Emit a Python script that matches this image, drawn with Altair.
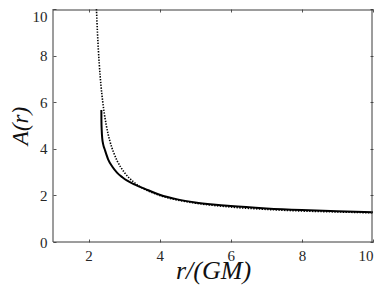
import altair as alt
import pandas as pd

# Dotted curve (reference)
r_dot = [2.222, 2.25, 2.3, 2.35, 2.4, 2.5, 2.6, 2.7, 2.8, 3.0, 3.25, 3.5, 4.0, 4.5, 5.0, 6.0, 7.0, 8.0, 9.0, 10.0]
A_dot = [10.0, 9.0, 7.67, 6.71, 6.0, 5.0, 4.33, 3.86, 3.5, 3.0, 2.6, 2.33, 2.0, 1.8, 1.67, 1.5, 1.4, 1.33, 1.29, 1.25]

# Solid curve
r_sol = [2.36, 2.362, 2.37, 2.385, 2.41, 2.46, 2.55, 2.67, 2.8, 2.95, 3.1, 3.32, 3.6, 4.0, 4.5, 5.0, 5.5, 6.0, 7.0, 8.0, 9.0, 10.0]
A_sol = [5.67, 5.2, 4.8, 4.45, 4.2, 3.95, 3.55, 3.23, 2.98, 2.78, 2.62, 2.45, 2.27, 2.03, 1.83, 1.70, 1.61, 1.54, 1.44, 1.37, 1.32, 1.28]

x_ticks = [2, 4, 6, 8, 10]
y_ticks = [0, 2, 4, 6, 8, 10]

dot_df = pd.DataFrame({"r": r_dot, "A": A_dot})
sol_df = pd.DataFrame({"r": r_sol, "A": A_sol})
one_df = pd.DataFrame({"k": [0]})

FONT = "Liberation Serif"
TICK = 3
W, H = 320, 233
AX = "#3a3a3a"

xscale = alt.Scale(domain=[1, 10], nice=False, zero=False)
yscale = alt.Scale(domain=[0, 10], nice=False)

x_bottom = alt.Axis(values=x_ticks, orient="bottom", offset=-TICK, tickSize=TICK, domain=False,
                    labelPadding=6, labelFont=FONT, labelFontSize=15, labelColor="#262626",
                    tickColor="#555555", grid=False, title="r/(GM)", titleFont=FONT,
                    titleFontSize=26, titleFontStyle="italic", titleFontWeight="normal",
                    titleColor="#111111", titleX=W / 2, titleY=39, titleBaseline="alphabetic",
                    titleAlign="center")
y_left = alt.Axis(values=y_ticks, orient="left", offset=-TICK, tickSize=TICK, domain=False,
                  labelPadding=6, labelFont=FONT, labelFontSize=15, labelColor="#262626",
                  labelBaseline=alt.condition("datum.value == 10", alt.value("top"), alt.value("middle")),
                  tickColor="#555555", grid=False, title="A(r)", titleFont=FONT,
                  titleFontSize=23, titleFontStyle="italic", titleFontWeight="normal",
                  titleColor="#111111", titleX=-29, titleY=H / 2, titleBaseline="alphabetic",
                  titleAlign="center", titleAngle=270)
x_top = alt.Axis(values=x_ticks, orient="top", offset=-TICK, tickSize=TICK, domain=False,
                 labels=False, tickColor="#555555", grid=False, title=None)
y_right = alt.Axis(values=y_ticks, orient="right", offset=-TICK, tickSize=TICK, domain=False,
                   labels=False, tickColor="#555555", grid=False, title=None)

dotted = alt.Chart(dot_df).mark_line(
    color="black", strokeWidth=1.6, strokeDash=[1.4, 1.4], clip=True, interpolate="monotone"
).encode(
    x=alt.X("r:Q", scale=xscale, axis=x_bottom),
    y=alt.Y("A:Q", scale=yscale, axis=y_left),
    order="r:Q",
)

solid = alt.Chart(sol_df).mark_line(
    color="black", strokeWidth=2, clip=True, interpolate="monotone"
).encode(
    x=alt.X("r:Q", scale=xscale, axis=x_top),
    y=alt.Y("A:Q", scale=yscale, axis=y_right),
    order="r:Q",
)

# plot-area frame (box around the axes)
frame_left = alt.Chart(one_df).mark_rule(color=AX, strokeWidth=1).encode(
    x=alt.value(0), y=alt.value(0), y2=alt.value(H))
frame_right = alt.Chart(one_df).mark_rule(color=AX, strokeWidth=1).encode(
    x=alt.value(W - 1), y=alt.value(0), y2=alt.value(H))
frame_top = alt.Chart(one_df).mark_rule(color=AX, strokeWidth=1).encode(
    y=alt.value(1), x=alt.value(0), x2=alt.value(W))
frame_bottom = alt.Chart(one_df).mark_rule(color=AX, strokeWidth=1).encode(
    y=alt.value(H), x=alt.value(0), x2=alt.value(W))

chart = alt.layer(dotted, solid, frame_left, frame_right, frame_top, frame_bottom).resolve_scale(
    x="independent", y="independent"
).properties(
    width=W, height=H,
    autosize=alt.AutoSizeParams(type="none"),
    padding={"left": 45, "top": 1, "right": 1, "bottom": 46},
    background="white",
).configure_view(stroke=None)

chart.save("out.html", embed_options={"renderer": "svg", "actions": False})
